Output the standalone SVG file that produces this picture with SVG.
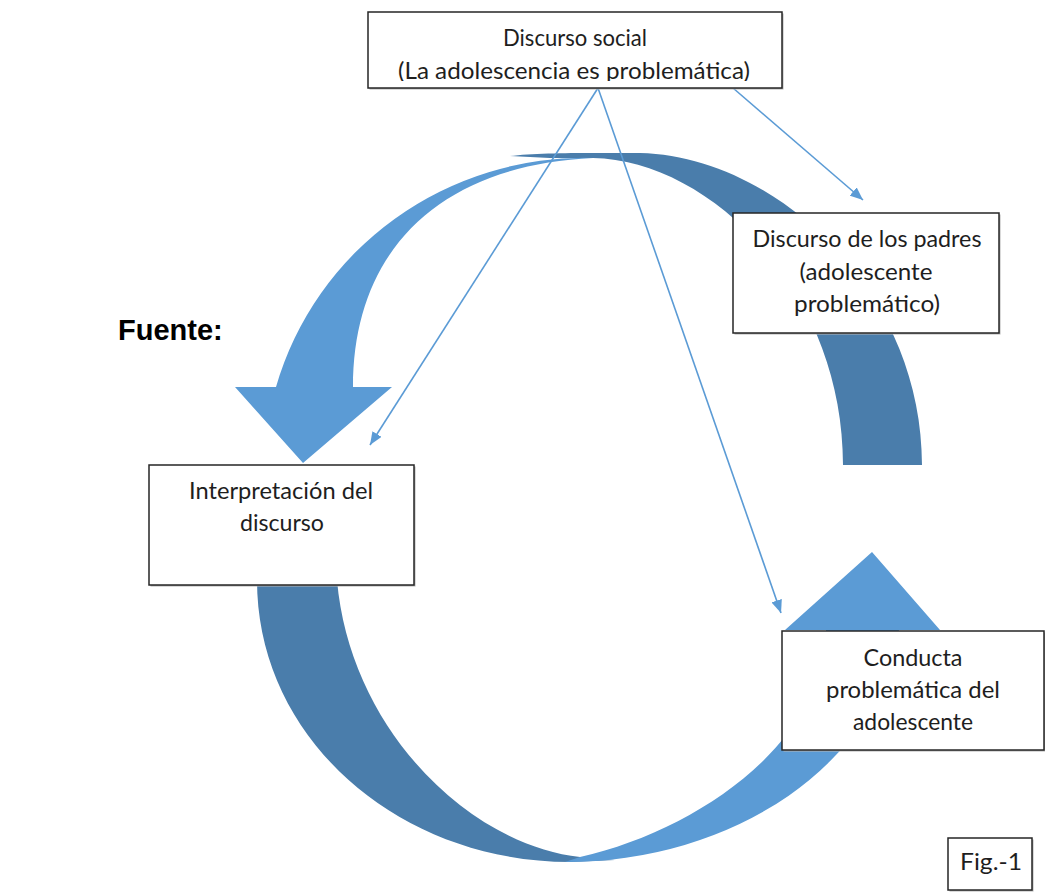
<svg xmlns="http://www.w3.org/2000/svg" width="1045" height="892" viewBox="0 0 1045 892">
  <style>
    .box { fill: #ffffff; stroke: #262626; stroke-width: 1.5; }
    .shadow { fill: #b3b3b3; }
    .txt { font-family: Lato, "Open Sans", "Liberation Sans", sans-serif; font-size: 23px; fill: #1e1e1e; text-anchor: middle; }
    .light { fill: #5B9BD5; }
    .dark { fill: #4A7DAB; }
    .conn { stroke: #5B9BD5; stroke-width: 1.6; fill: none; marker-end: url(#ah); }
  </style>
  <defs>
    <marker id="ah" viewBox="0 0 12 10" refX="12" refY="5" markerWidth="13" markerHeight="11" markerUnits="userSpaceOnUse" orient="auto">
      <path d="M0,0 L12,5 L0,10 Z" fill="#5B9BD5"/>
    </marker>
    <clipPath id="clipSocial">
      <rect x="368" y="12" width="414" height="69"/>
    </clipPath>
  </defs>
  <rect width="1045" height="892" fill="#ffffff"/>

  <g id="cycle-arrows">
    <path class="dark" d="M510,156 C540,152 600,153 640,153 C775,156 922,290 922,465 L843,465 C843,290 710,160 593,158 L550,158 Z"/>
    <path class="light" d="M593,158 A320 315 0 0 0 276,387 L235,387 L303,463 L392,387 L353,387 C353,250 440,165 593,158 Z"/>
    <path class="dark" d="M257,580 C257,740 400,862 570,862 L615,860 L580,857 C470,845 350,730 337,580 Z"/>
    <path class="light" d="M565,862 A336 262 0 0 0 899,630 L940,630 L872,552 L785,630 L826,630 C826,740 700,830 580,857 Z"/>
  </g>

  <g id="connectors">
    <line class="conn" x1="598" y1="88" x2="370" y2="445"/>
    <line class="conn" x1="598" y1="88" x2="781" y2="613"/>
    <line class="conn" x1="733" y1="88" x2="863" y2="200"/>
  </g>

  <g id="node-discurso-social">
    <rect class="shadow" x="369.5" y="13.5" width="414" height="76"/>
    <rect class="box" x="368" y="12" width="414" height="76"/>
    <g clip-path="url(#clipSocial)">
      <text class="txt" x="575" y="46" textLength="144" lengthAdjust="spacingAndGlyphs">Discurso social</text>
      <text class="txt" x="574" y="79" textLength="352" lengthAdjust="spacingAndGlyphs">(La adolescencia es problemática)</text>
    </g>
  </g>

  <g id="node-discurso-padres">
    <rect class="shadow" x="734.5" y="214.5" width="266" height="120"/>
    <rect class="box" x="733" y="213" width="266" height="120"/>
    <text class="txt" x="867" y="247" textLength="229" lengthAdjust="spacingAndGlyphs">Discurso de los padres</text>
    <text class="txt" x="866" y="280" textLength="133" lengthAdjust="spacingAndGlyphs">(adolescente</text>
    <text class="txt" x="867" y="312" textLength="146" lengthAdjust="spacingAndGlyphs">problemático)</text>
  </g>

  <g id="node-interpretacion">
    <rect class="shadow" x="150.5" y="466.5" width="265" height="120"/>
    <rect class="box" x="149" y="465" width="265" height="120"/>
    <text class="txt" x="281" y="499" textLength="184" lengthAdjust="spacingAndGlyphs">Interpretación del</text>
    <text class="txt" x="282" y="531" textLength="84" lengthAdjust="spacingAndGlyphs">discurso</text>
  </g>

  <g id="node-conducta">
    <rect class="shadow" x="783.5" y="632.5" width="262" height="119"/>
    <rect class="box" x="782" y="631" width="262" height="119"/>
    <text class="txt" x="913" y="666" textLength="99" lengthAdjust="spacingAndGlyphs">Conducta</text>
    <text class="txt" x="913" y="698" textLength="174" lengthAdjust="spacingAndGlyphs">problemática del</text>
    <text class="txt" x="913" y="730" textLength="120" lengthAdjust="spacingAndGlyphs">adolescente</text>
  </g>

  <g id="node-fig">
    <rect class="shadow" x="949.5" y="839.5" width="84" height="52"/>
    <rect class="box" x="948" y="838" width="84" height="52"/>
    <text class="txt" x="991" y="870" textLength="62" lengthAdjust="spacingAndGlyphs">Fig.-1</text>
  </g>

  <g id="label-fuente">
    <text x="118" y="340" font-family="'Liberation Sans', Arial, sans-serif" font-size="29" font-weight="bold" fill="#000000">Fuente:</text>
  </g>
</svg>
